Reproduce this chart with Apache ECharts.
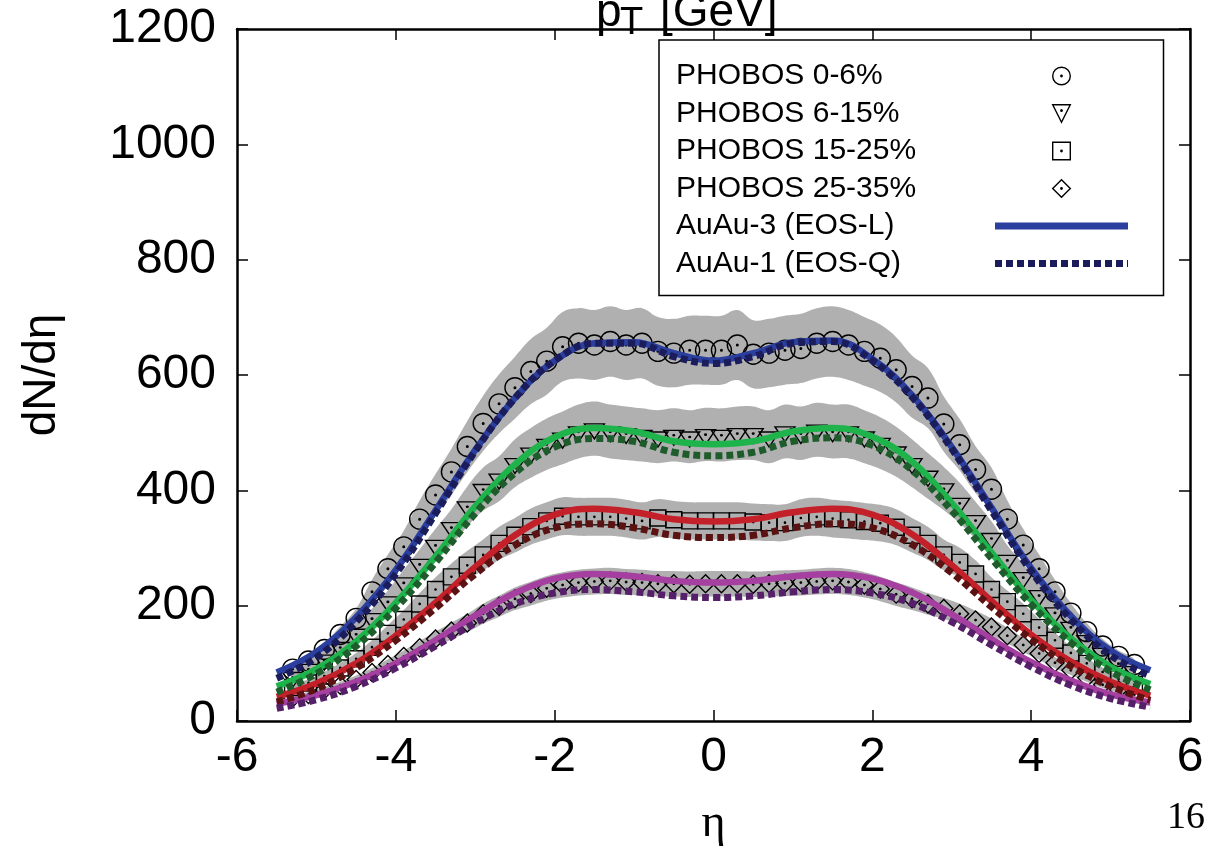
<!DOCTYPE html>
<html><head><meta charset="utf-8">
<script src="https://cdn.jsdelivr.net/npm/echarts@6/dist/echarts.min.js"></script>
<style>html,body{margin:0;padding:0;background:#fff}#c{width:1215px;height:850px}</style>
</head><body><div id="c"></div>
<script>
// ---- data ----
const etaData = [-5.3,-5.1,-4.9,-4.7,-4.5,-4.3,-4.1,-3.9,-3.7,-3.5,-3.3,-3.1,-2.9,-2.7,-2.5,-2.3,-2.1,-1.9,-1.7,-1.5,-1.3,-1.1,-0.9,-0.7,-0.5,-0.3,-0.1,
                 0.1,0.3,0.5,0.7,0.9,1.1,1.3,1.5,1.7,1.9,2.1,2.3,2.5,2.7,2.9,3.1,3.3,3.5,3.7,3.9,4.1,4.3,4.5,4.7,4.9,5.1,5.3];
const phobos0_6 = [90,104,124,150,178,224,264,302,350,392,432,476,516,550,578,606,624,649,655,652,658,652,655,641,638,643,643,
                   643,652,636,638,643,646,655,658,652,641,629,609,580,560,515,479,436,402,350,305,264,224,187,155,130,112,98];
const phobos6_15 = [76,90,106,128,151,178,207,240,272,305,336,372,402,420,447,465,480,491,502,507,502,499,496,493,496,493,497,
                    496,499,499,493,502,499,505,502,502,493,482,467,447,425,403,378,348,317,279,249,218,188,163,140,118,100,86];
const phobos15_25 = [58,66,78,92,108,128,152,176,203,228,250,270,288,308,322,337,347,355,354,354,354,351,347,352,349,347,347,
                     347,347,345,344,344,352,354,351,349,346,343,336,322,308,288,275,255,228,207,186,162,140,118,100,85,73,63];
const phobos25_35 = [40,46,54,62,72,84,98,112,127,142,156,170,186,199,212,221,230,236,240,242,243,241,240,238,238,237,238,
                     238,238,237,238,239,240,242,243,241,236,229,220,212,203,195,186,175,163,148,132,117,101,88,75,63,54,46];
const sysErr = 0.093; // PHOBOS relative systematic uncertainty (grey bands)

const etaModel = [-5.5,-5,-4.5,-4,-3.5,-3,-2.5,-2,-1.5,-1,-0.5,0,0.5,1,1.5,2,2.5,3,3.5,4,4.5,5,5.5];
const eosL_0_6   = [84,120,180,262,365,470,560,625,655,657,638,625,638,657,660,628,565,475,370,265,182,122,88];
const eosQ_0_6   = [74,110,172,255,360,468,560,625,655,655,632,620,632,655,658,625,562,472,365,260,176,114,78];
const eosL_6_15  = [60,90,138,205,285,372,445,492,508,502,485,480,485,502,508,493,450,378,292,210,143,94,64];
const eosQ_6_15  = [50,82,130,196,275,360,430,475,490,485,466,460,466,485,491,478,435,365,282,202,136,86,54];
const eosL_15_25 = [42,65,100,148,205,267,322,358,368,362,350,346,350,362,368,358,324,270,208,150,103,68,44];
const eosQ_15_25 = [33,56,92,140,196,255,305,335,342,335,322,318,322,335,342,335,306,257,198,142,95,60,36];
const eosL_25_35 = [30,45,68,100,140,183,222,247,255,251,243,240,243,251,255,247,223,185,142,102,70,46,32];
const eosQ_25_35 = [22,37,60,92,130,170,203,222,228,224,217,214,217,224,228,222,204,172,132,94,62,39,24];

const legendNames = ['PHOBOS 0-6%','PHOBOS 6-15%','PHOBOS 15-25%','PHOBOS 25-35%','AuAu-3 (EOS-L)','AuAu-1 (EOS-Q)'];

// ---- styles ----
const FONT = 'Liberation Sans';
const DOT = 'M10.8,10A0.8,0.8,0,1,1,9.2,10A0.8,0.8,0,1,1,10.8,10Z';
const SYM_CIRCLE = 'path://M20,10A10,10,0,1,1,0,10A10,10,0,1,1,20,10Z' + DOT;
const SYM_TRI = 'path://M0,0L20,0L10,17.32ZM10.8,5.77A0.8,0.8,0,1,1,9.2,5.77A0.8,0.8,0,1,1,10.8,5.77Z';
const SYM_SQ = 'path://M0,0L20,0L20,20L0,20Z' + DOT;
const SYM_DIA = 'path://M10,0L20,10L10,20L0,10Z' + DOT;

function band(vals) {
  return {
    type: 'custom', z: 1, silent: true, data: [[0, 0]],
    renderItem: function (params, api) {
      const up = [], lo = [];
      for (let i = 0; i < etaData.length; i++) {
        up.push(api.coord([etaData[i], vals[i] * (1 + sysErr)]));
        lo.push(api.coord([etaData[i], vals[i] * (1 - sysErr)]));
      }
      return { type: 'polygon', shape: { points: up.concat(lo.reverse()), smooth: 0.4 }, style: { fill: '#b0b0b0' } };
    }
  };
}
function markers(name, vals, symbol, size, offset) {
  return {
    type: 'line', name: name, z: 3, silent: true,
    data: etaData.map((e, i) => [e, vals[i]]),
    symbol: symbol, symbolSize: size, symbolOffset: offset || [0, 0], symbolKeepAspect: true,
    showSymbol: true, showAllSymbol: true,
    lineStyle: { width: 0, opacity: 0, color: 'transparent' },
    itemStyle: { color: 'transparent', borderColor: '#000', borderWidth: 1.4 },
    emphasis: { disabled: true }
  };
}
function curve(name, vals, color, dashed) {
  return {
    type: 'line', name: name, z: dashed ? 5 : 4, silent: true, symbol: 'none', smooth: 0.4,
    data: etaModel.map((e, i) => [e, vals[i]]),
    lineStyle: { color: color, width: dashed ? 7 : 6.5, type: dashed ? [7, 4] : 'solid', cap: 'butt' },
    itemStyle: { color: color },
    emphasis: { disabled: true }
  };
}

const C = {
  blueL: '#2b3f9f', blueQ: '#1b1c5c',
  greenL: '#1fb44b', greenQ: '#1e5d2b',
  redL: '#c42029', redQ: '#5a1212',
  magL: '#a53fa0', magQ: '#561f69'
};

const mkItemStyle = { color: 'transparent', borderColor: '#000', borderWidth: 1.4 };
const noLine = { width: 0, opacity: 0 };
const plain = function (v) { return String(v); };

const option = {
  animation: false,
  backgroundColor: '#fff',
  grid: { left: 237, right: 25, top: 29, bottom: 129, containLabel: false, outerBoundsMode: 'none' },
  xAxis: [
    { type: 'value', min: -6, max: 6, interval: 2, position: 'bottom',
      name: 'η', nameLocation: 'middle', nameGap: 80,
      nameTextStyle: { fontFamily: 'Liberation Serif', fontSize: 46, color: '#000' },
      axisLine: { onZero: false, lineStyle: { color: '#000', width: 2.5 } },
      axisTick: { inside: true, length: 11, lineStyle: { color: '#000', width: 1.5 } },
      axisLabel: { fontFamily: FONT, fontSize: 48, color: '#000', margin: 13, formatter: plain },
      splitLine: { show: false } },
    { type: 'value', min: -6, max: 6, interval: 2, position: 'top',
      axisLine: { onZero: false, lineStyle: { color: '#000', width: 2.5 } },
      axisTick: { inside: true, length: 11, lineStyle: { color: '#000', width: 1.5 } },
      axisLabel: { show: false }, splitLine: { show: false } }
  ],
  yAxis: [
    { type: 'value', min: 0, max: 1200, interval: 200, position: 'left',
      name: 'dN/dη', nameLocation: 'middle', nameGap: 172, nameRotate: 90,
      nameTextStyle: { fontFamily: FONT, fontSize: 46, color: '#000' },
      axisLine: { onZero: false, lineStyle: { color: '#000', width: 2.5 } },
      axisTick: { inside: true, length: 11, lineStyle: { color: '#000', width: 1.5 } },
      axisLabel: { fontFamily: FONT, fontSize: 48, color: '#000', margin: 21, formatter: plain },
      splitLine: { show: false } },
    { type: 'value', min: 0, max: 1200, interval: 200, position: 'right',
      axisLine: { onZero: false, lineStyle: { color: '#000', width: 2.5 } },
      axisTick: { inside: true, length: 11, lineStyle: { color: '#000', width: 1.5 } },
      axisLabel: { show: false }, splitLine: { show: false } }
  ],
  legend: {
    orient: 'vertical', left: 659, top: 40, align: 'right',
    padding: [21, 32, 17, 17], itemGap: 7.5, itemWidth: 133, itemHeight: 22,
    borderColor: '#000', borderWidth: 1.5, backgroundColor: '#fff',
    selectedMode: false,
    formatter: function (n) { return '{t|' + n + '}'; },
    textStyle: { rich: { t: { width: 314, align: 'left', fontSize: 30, fontFamily: FONT, color: '#000', lineHeight: 20 } } },
    lineStyle: { width: 7 },
    data: [
      { name: legendNames[0], itemStyle: mkItemStyle, lineStyle: noLine },
      { name: legendNames[1], itemStyle: mkItemStyle, lineStyle: noLine },
      { name: legendNames[2], itemStyle: mkItemStyle, lineStyle: noLine },
      { name: legendNames[3], itemStyle: mkItemStyle, lineStyle: noLine },
      { name: legendNames[4], itemStyle: { opacity: 0 } },
      { name: legendNames[5], itemStyle: { opacity: 0 } }
    ]
  },
  graphic: [
    { type: 'text', x: 596, y: 13, z: 10, style: { text: 'p', fontFamily: FONT, fontSize: 46, fill: '#000', verticalAlign: 'middle', align: 'left' } },
    { type: 'text', x: 620, y: 24, z: 10, style: { text: 'T', fontFamily: FONT, fontSize: 38, fill: '#000', verticalAlign: 'middle', align: 'left' } },
    { type: 'text', x: 660, y: 13, z: 10, style: { text: '[GeV]', fontFamily: FONT, fontSize: 46, fill: '#000', verticalAlign: 'middle', align: 'left' } },
    { type: 'text', x: 1186, y: 818, z: 10, style: { text: '16', fontFamily: 'Liberation Serif', fontSize: 38, fill: '#000', verticalAlign: 'middle', align: 'center' } }
  ],
  series: [
    band(phobos0_6), band(phobos6_15), band(phobos15_25), band(phobos25_35),
    markers(legendNames[0], phobos0_6, SYM_CIRCLE, 20),
    markers(legendNames[1], phobos6_15, SYM_TRI, [20, 17.3], [0, 2.8]),
    markers(legendNames[2], phobos15_25, SYM_SQ, 16),
    markers(legendNames[3], phobos25_35, SYM_DIA, 18),
    curve(legendNames[4], eosL_0_6, C.blueL, false),
    curve(legendNames[5], eosQ_0_6, C.blueQ, true),
    curve(legendNames[4], eosL_6_15, C.greenL, false),
    curve(legendNames[5], eosQ_6_15, C.greenQ, true),
    curve(legendNames[4], eosL_15_25, C.redL, false),
    curve(legendNames[5], eosQ_15_25, C.redQ, true),
    curve(legendNames[4], eosL_25_35, C.magL, false),
    curve(legendNames[5], eosQ_25_35, C.magQ, true)
  ]
};
const chart = echarts.init(document.getElementById('c'), null, { renderer: 'canvas' });
chart.setOption(option);
</script>
</body></html>
